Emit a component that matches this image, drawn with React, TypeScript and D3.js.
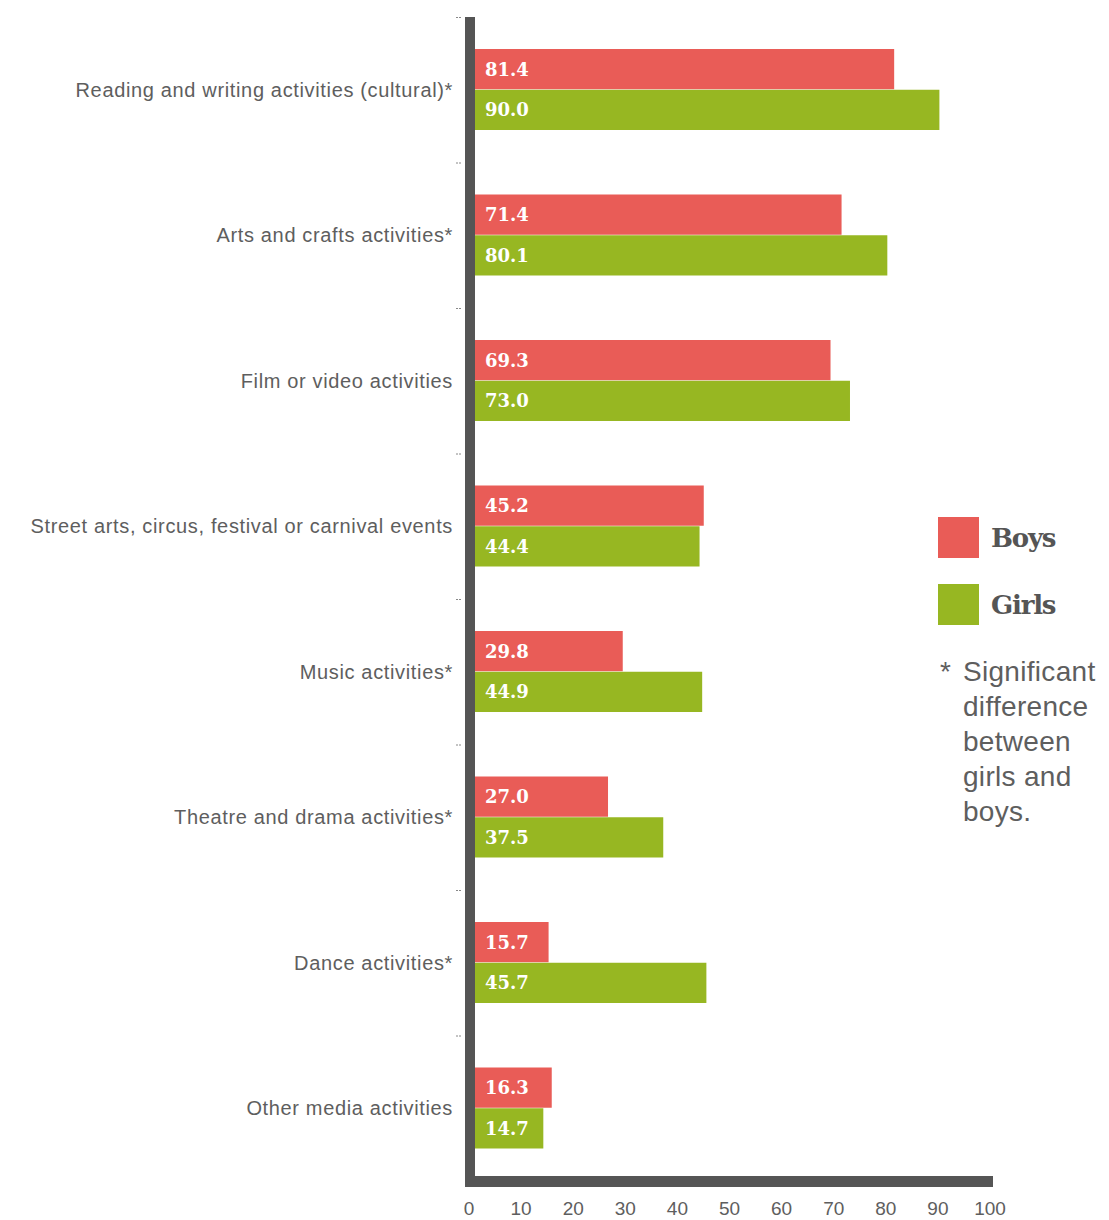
import React from "react";
import * as d3 from "d3";

const categories = [
  "Reading and writing activities (cultural)*",
  "Arts and crafts activities*",
  "Film or video activities",
  "Street arts, circus, festival or carnival events",
  "Music activities*",
  "Theatre and drama activities*",
  "Dance activities*",
  "Other media activities",
];
const boys = [81.4, 71.4, 69.3, 45.2, 29.8, 27.0, 15.7, 16.3];
const girls = [90.0, 80.1, 73.0, 44.4, 44.9, 37.5, 45.7, 14.7];
const seriesNames = ["Boys", "Girls"];
const seriesColors = ["#E95C57", "#97B722"];
const xTicks = [0, 10, 20, 30, 40, 50, 60, 70, 80, 90, 100];
const footnote = ["Significant", "difference", "between", "girls and", "boys."];

export default function App() {
  const W = 1109;
  const H = 1220;
  const x = d3.scaleLinear().domain([0, 100]).range([466, 992]);
  const xt = d3.scaleLinear().domain([0, 100]).range([469, 990]);
  const y = d3.scaleBand<string>().domain(categories).range([17, 1181]).padding(0);
  const sub = d3.scaleBand<string>().domain(seriesNames).range([32, 113]).paddingInner(0.0125);
  const values = [boys, girls];
  const axisColor = "#555555";
  const textColor = "#5e5e5e";
  const sans = "'Liberation Sans', Arial, sans-serif";
  const serif = "'DejaVu Serif', serif";

  return (
    <svg width={W} height={H} style={{ position: "absolute", left: 0, top: 0, background: "#fff" }}>
      {/* category labels */}
      {categories.map((c) => (
        <text
          key={c}
          x={453}
          y={(y(c) as number) + y.bandwidth() / 2}
          dy="0.35em"
          textAnchor="end"
          fontFamily={sans}
          fontSize={20}
          letterSpacing={0.65}
          fill={textColor}
        >
          {c}
        </text>
      ))}
      {/* small tick dashes */}
      {categories.map((c) => (
        <line
          key={"t" + c}
          x1={456}
          x2={462}
          y1={(y(c) as number) + 0.5}
          y2={(y(c) as number) + 0.5}
          stroke="#888"
          strokeWidth={1}
          strokeDasharray="2,1"
        />
      ))}
      {/* bars */}
      {categories.map((c, i) =>
        seriesNames.map((s, j) => {
          const v = values[j][i];
          const by = (y(c) as number) + (sub(s) as number);
          return (
            <g key={c + s}>
              <rect x={x(0)} y={by} width={x(v) - x(0)} height={sub.bandwidth()} fill={seriesColors[j]} />
              <text
                x={485}
                y={by + sub.bandwidth() / 2}
                dy="0.36em"
                fontFamily={serif}
                fontWeight="bold"
                fontSize={18}
                fill="#fff"
              >
                {v.toFixed(1)}
              </text>
            </g>
          );
        })
      )}
      {/* axes */}
      <rect x={465} y={17} width={10} height={1170} fill={axisColor} />
      <rect x={465} y={1176} width={x(100) - 465 + 1} height={11} fill={axisColor} />
      {xTicks.map((t) => (
        <text
          key={"x" + t}
          x={xt(t)}
          y={1215}
          textAnchor="middle"
          fontFamily={sans}
          fontSize={19}
          fill={textColor}
        >
          {t}
        </text>
      ))}
      {/* legend */}
      {seriesNames.map((s, j) => (
        <g key={"l" + s}>
          <rect x={938} y={517 + j * 67} width={41} height={41} fill={seriesColors[j]} />
          <text
            x={991}
            y={547 + j * 67}
            fontFamily={serif}
            fontWeight="bold"
            fontSize={26}
            letterSpacing={-1.2}
            fill={axisColor}
          >
            {s}
          </text>
        </g>
      ))}
      {/* footnote */}
      <text x={940} y={681} fontFamily={sans} fontSize={28} fill={textColor}>*</text>
      {footnote.map((l, k) => (
        <text
          key={"f" + k}
          x={963}
          y={681 + k * 35}
          fontFamily={sans}
          fontSize={28}
          letterSpacing={0.3}
          fill={textColor}
        >
          {l}
        </text>
      ))}
    </svg>
  );
}
